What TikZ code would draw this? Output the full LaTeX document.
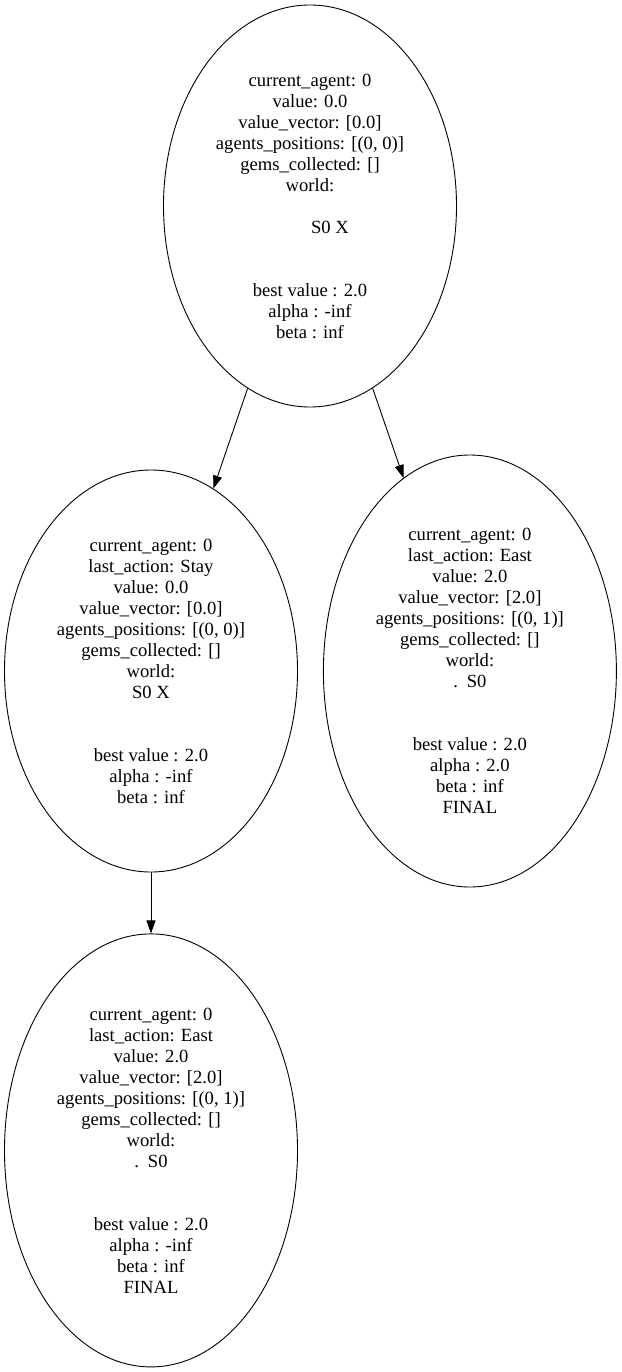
\documentclass[tikz,border=0pt]{standalone}
\usepackage{fontspec}
\setmainfont{Liberation Serif}
\usetikzlibrary{positioning,shapes.geometric,arrows.meta}

\begin{document}
\begin{tikzpicture}[x=1pt,y=-1pt,
  state/.style={ellipse,draw,line width=0.9pt,inner sep=0pt,minimum width=293pt,align=center,font=\fontsize{18.6}{21}\selectfont},
  edge/.style={-{Triangle[length=13pt,width=9pt]},line width=0.9pt}]
  \useasboundingbox (0,0) rectangle (621,1372);
  \node[state,minimum height=402pt] (root) at (310,206) {current\_agent: 0\\value: 0.0\\value\_vector: [0.0]\\agents\_positions: [(0, 0)]\\gems\_collected: []\\world:\\\mbox{}\\\hspace*{40pt}S0 X\\\mbox{}\\\mbox{}\\best value : 2.0\\alpha : -inf\\beta : inf};
  \node[state,minimum height=402pt] (stay) at (151,671) {current\_agent: 0\\last\_action: Stay\\value: 0.0\\value\_vector: [0.0]\\agents\_positions: [(0, 0)]\\gems\_collected: []\\world:\\S0 X\\\mbox{}\\\mbox{}\\best value : 2.0\\alpha : -inf\\beta : inf};
  \node[state,minimum height=432pt,right=25pt of stay] (east) {current\_agent: 0\\last\_action: East\\value: 2.0\\value\_vector: [2.0]\\agents\_positions: [(0, 1)]\\gems\_collected: []\\world:\\.\hspace{9pt}S0\\\mbox{}\\\mbox{}\\best value : 2.0\\alpha : 2.0\\beta : inf\\FINAL};
  \node[state,minimum height=433pt,below=61pt of stay] (final) {current\_agent: 0\\last\_action: East\\value: 2.0\\value\_vector: [2.0]\\agents\_positions: [(0, 1)]\\gems\_collected: []\\world:\\.\hspace{9pt}S0\\\mbox{}\\\mbox{}\\best value : 2.0\\alpha : -inf\\beta : inf\\FINAL};
  \draw[edge] (root) -- (stay);
  \draw[edge] (root) -- (east);
  \draw[edge] (stay) -- (final);
\end{tikzpicture}
\end{document}
